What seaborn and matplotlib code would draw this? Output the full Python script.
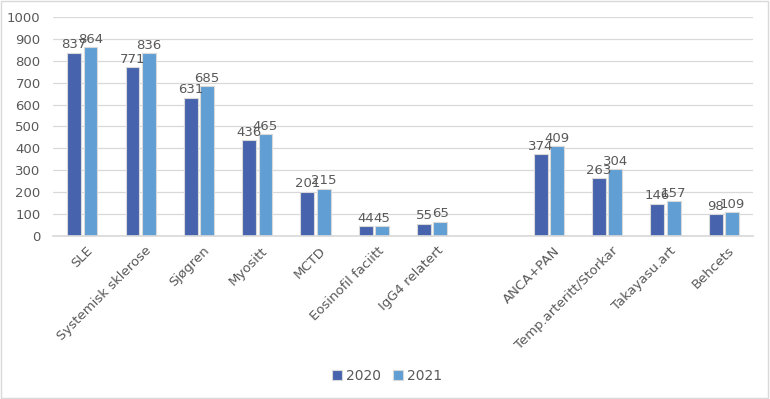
import matplotlib
matplotlib.use("Agg")
import matplotlib.pyplot as plt
import matplotlib.transforms as mtransforms
import seaborn as sns
import pandas as pd
import numpy as np
from matplotlib.patches import Rectangle

categories = ["SLE", "Systemisk sklerose", "Sjøgren", "Myositt", "MCTD",
              "Eosinofil faciitt", "IgG4 relatert", " ", "ANCA+PAN",
              "Temp.arteritt/Storkar", "Takayasu.art", "Behcets"]
values_2020 = [837, 771, 631, 436, 201, 44, 55, np.nan, 374, 263, 146, 98]
values_2021 = [864, 836, 685, 465, 215, 45, 65, np.nan, 409, 304, 157, 109]
years = ["2020", "2021"]
yticks = list(range(0, 1001, 100))

df = pd.DataFrame({
    "cat": categories * 2,
    "year": [years[0]] * len(categories) + [years[1]] * len(categories),
    "val": values_2020 + values_2021,
})

sns.set_theme(style="white")
plt.rcParams["font.family"] = ["DejaVu Sans"]
txt = "#595959"

fig = plt.figure(figsize=(7.7, 3.99), dpi=100)
ax = fig.add_axes([0.069, 0.409, 0.909, 0.548])

sns.barplot(data=df, x="cat", y="val", hue="year", order=categories,
            hue_order=years, palette=["#4763AD", "#609ED4"], width=0.56,
            gap=0.15, edgecolor="#d9d9d9", linewidth=0.8, ax=ax,
            errorbar=None, saturation=1)

for cont in ax.containers:
    labels = ["" if np.isnan(v) else f"{int(v)}" for v in cont.datavalues]
    ax.bar_label(cont, labels=labels, fontsize=9.5, color=txt, padding=1)

ax.set_ylim(0, 1000)
ax.set_yticks(yticks)
ax.set_yticklabels([str(t) for t in yticks], fontsize=9.5, color=txt)
ax.yaxis.grid(True, color="#d9d9d9", linewidth=0.9)
ax.set_axisbelow(True)
ax.set_xlabel("")
ax.set_ylabel("")
ax.tick_params(axis="y", length=0, pad=9)
ax.tick_params(axis="x", length=0, pad=6)
offset = mtransforms.ScaledTranslation(4 / 100, 0, fig.dpi_scale_trans)
for lab in ax.get_xticklabels():
    lab.set_rotation(45)
    lab.set_ha("right")
    lab.set_rotation_mode("anchor")
    lab.set_fontsize(9.5)
    lab.set_color(txt)
    lab.set_transform(lab.get_transform() + offset)
for s in ["top", "right", "left"]:
    ax.spines[s].set_visible(False)
ax.spines["bottom"].set_color("#d9d9d9")

ax.legend(loc="center", ncol=2, frameon=False, fontsize=10, handlelength=0.7,
          handleheight=0.7, columnspacing=0.9, handletextpad=0.3, labelcolor=txt)
leg = ax.get_legend()
leg.set_bbox_to_anchor((0.503, 23 / 399), transform=fig.transFigure)

fig.add_artist(Rectangle((0.001, 0.002), 0.997, 0.995, transform=fig.transFigure,
                         fill=False, edgecolor="#d9d9d9", linewidth=1))

fig.savefig("out.png", dpi=100)
